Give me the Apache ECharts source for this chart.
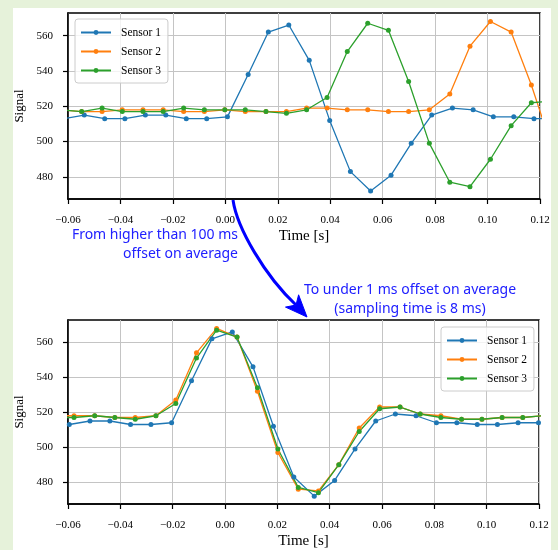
<!DOCTYPE html>
<html>
<head>
<meta charset="utf-8">
<script src="https://cdn.jsdelivr.net/npm/echarts@6/dist/echarts.min.js"></script>
<style>
html,body{margin:0;padding:0;background:#e6f2da;}
#chart{width:558px;height:550px;}
</style>
</head>
<body>
<div id="chart"></div>
<script>
// ---- data ----
const seriesNames = ['Sensor 1', 'Sensor 2', 'Sensor 3'];
const xTicks = [-0.06, -0.04, -0.02, 0.00, 0.02, 0.04, 0.06, 0.08, 0.10, 0.12];
const yTicks = [480, 500, 520, 540, 560];

// Top panel (before synchronisation)
const topTime1 = [-0.0617, -0.0538, -0.0460, -0.0383, -0.0305, -0.0227, -0.0149, -0.0071, 0.0008, 0.0087, 0.0164, 0.0242, 0.0320, 0.0398, 0.0477, 0.0554, 0.0632, 0.0709, 0.0787, 0.0866, 0.0945, 0.1022, 0.1100, 0.1177, 0.1255];
const topSensor1 = [513, 515, 513, 513, 515, 515, 513, 513, 514, 538, 562, 566, 546, 512, 483, 472, 481, 499, 515, 519, 518, 514, 514, 513, 513];
const topTime23 = [-0.0626, -0.0548, -0.0470, -0.0393, -0.0314, -0.0237, -0.0159, -0.0080, -0.0002, 0.0076, 0.0155, 0.0233, 0.0310, 0.0388, 0.0465, 0.0543, 0.0622, 0.0699, 0.0778, 0.0856, 0.0933, 0.1011, 0.1090, 0.1167, 0.1245];
const topSensor2 = [518, 517, 517, 518, 518, 518, 517, 517, 518, 517, 517, 517, 519, 519, 518, 518, 517, 517, 518, 527, 554, 568, 562, 532, 497];
const topSensor3 = [518, 517, 519, 517, 517, 517, 519, 518, 518, 518, 517, 516, 518, 525, 551, 567, 563, 534, 499, 477, 474.5, 490, 509, 522, 523];

// Bottom panel (after synchronisation)
const botTime1 = [-0.0595, -0.0516, -0.0440, -0.0361, -0.0283, -0.0204, -0.0128, -0.0050, 0.0028, 0.0107, 0.0185, 0.0263, 0.0341, 0.0419, 0.0497, 0.0576, 0.0651, 0.0730, 0.0808, 0.0886, 0.0964, 0.1041, 0.1120, 0.1198];
const botSensor1 = [513, 515, 515, 513, 513, 514, 538, 562, 566, 546, 512, 483, 472, 481, 499, 515, 519, 518, 514, 514, 513, 513, 514, 514];
const botTime23 = [-0.0656, -0.0577, -0.0498, -0.0421, -0.0343, -0.0264, -0.0188, -0.0109, -0.0032, 0.0046, 0.0124, 0.0202, 0.0280, 0.0357, 0.0435, 0.0513, 0.0591, 0.0669, 0.0746, 0.0825, 0.0904, 0.0982, 0.1059, 0.1138, 0.1215];
const botSensor2 = [518, 518, 518, 517, 517, 518, 527, 554, 568, 563, 532, 497, 476, 475, 490, 511, 523, 523, 519, 518, 516, 516, 517, 517, 518];
const botSensor3 = [517, 517, 518, 517, 516, 518, 525, 551, 567, 563, 534, 499, 477, 474, 490, 509, 522, 523, 519, 517, 516, 516, 517, 517, 518];

const annotationTop = ['From higher than 100 ms', 'offset on average'];
const annotationBottom = ['To under 1 ms offset on average', '(sampling time is 8 ms)'];

// ---- styling ----
const colors = ['#1f77b4', '#ff7f0e', '#2ca02c'];
const serif = 'Liberation Serif';
const zip = (t, v) => t.map((x, i) => [x, v[i]]);

function makeX(gridIndex) {
  return {
    type: 'value', gridIndex, min: -0.06, max: 0.12, interval: 0.02,
    name: 'Time [s]', nameLocation: 'middle', nameGap: 30,
    nameTextStyle: { fontFamily: serif, fontSize: 15, color: '#000' },
    axisLine: { show: true, onZero: false, lineStyle: { color: '#000', width: 1.5 } },
    axisTick: { show: true, length: 5, lineStyle: { color: '#000', width: 1.2 }, customValues: xTicks },
    axisLabel: { margin: 16, fontFamily: serif, fontSize: 11, color: '#000', customValues: xTicks,
      formatter: v => (v < 0 ? '\u2212' : '') + Math.abs(v).toFixed(2) },
    splitLine: { show: true, lineStyle: { color: '#c4c4c4', width: 1 } }
  };
}
function makeY(gridIndex) {
  return {
    type: 'value', gridIndex, min: 467.5, max: 572.8,
    name: 'Signal', nameLocation: 'middle', nameGap: 37, nameRotate: 90,
    nameTextStyle: { fontFamily: serif, fontSize: 13, color: '#000' },
    axisLine: { show: true, onZero: false, lineStyle: { color: '#000', width: 1.5 } },
    axisTick: { show: true, length: 5, lineStyle: { color: '#000', width: 1.2 }, customValues: yTicks },
    axisLabel: { margin: 15, fontFamily: serif, fontSize: 11, color: '#000', customValues: yTicks },
    splitLine: { show: true, lineStyle: { color: '#c4c4c4', width: 1 } }
  };
}
function line(name, data, idx, color) {
  return {
    name, type: 'line', xAxisIndex: idx, yAxisIndex: idx, data,
    symbol: 'circle', symbolSize: 5, showSymbol: true, clip: true,
    lineStyle: { color, width: 1.3 }, itemStyle: { color },
    animation: false, emphasis: { disabled: true }
  };
}
function legend(left, top) {
  return {
    orient: 'vertical', left, top, data: seriesNames,
    itemWidth: 30, itemHeight: 6, itemGap: 6,
    padding: [7, 7, 6, 5],
    backgroundColor: 'rgba(255,255,255,0.8)', borderColor: '#cccccc', borderWidth: 1, borderRadius: 3,
    textStyle: { fontFamily: serif, fontSize: 11.5, lineHeight: 13, color: '#000', padding: [0, 0, 0, 5] },
    selectedMode: false
  };
}

const chart = echarts.init(document.getElementById('chart'), null, { renderer: 'canvas' });
chart.setOption({
  backgroundColor: '#e6f2da',
  animation: false,
  grid: [
    { left: 68, top: 13, width: 472, height: 186, show: true, backgroundColor: '#fff', borderColor: '#000', borderWidth: 1.5 },
    { left: 68, top: 320, width: 471, height: 187, show: true, backgroundColor: '#fff', borderColor: '#000', borderWidth: 1.5 }
  ],
  xAxis: [makeX(0), makeX(1)],
  yAxis: [makeY(0), makeY(1)],
  legend: [legend(75, 19), legend(441, 327)],
  series: [
    line('Sensor 1', zip(topTime1, topSensor1), 0, colors[0]),
    line('Sensor 2', zip(topTime23, topSensor2), 0, colors[1]),
    line('Sensor 3', zip(topTime23, topSensor3), 0, colors[2]),
    line('Sensor 1', zip(botTime1, botSensor1), 1, colors[0]),
    line('Sensor 2', zip(botTime23, botSensor2), 1, colors[1]),
    line('Sensor 3', zip(botTime23, botSensor3), 1, colors[2])
  ],
  graphic: [
    { type: 'rect', z: -100, silent: true, shape: { x: 13, y: 8, width: 538, height: 542 }, style: { fill: '#ffffff' } },
    { type: 'text', z: 100, x: 238, y: 226, style: { text: annotationTop.join('\n'), align: 'right', verticalAlign: 'top',
      fontFamily: 'Noto Sans', fontSize: 14, lineHeight: 19, fill: '#2020ff' } },
    { type: 'text', z: 100, x: 410, y: 281, style: { text: annotationBottom.join('\n'), align: 'center', verticalAlign: 'top',
      fontFamily: 'Noto Sans', fontSize: 14, lineHeight: 19, fill: '#2020ff' } },
    { type: 'bezierCurve', z: 100, shape: { x1: 233, y1: 200, cpx1: 237, cpy1: 228, cpx2: 265, cpy2: 276, x2: 296, y2: 305 },
      style: { stroke: '#0000ff', lineWidth: 3, fill: null } },
    { type: 'polygon', z: 100, shape: { points: [[307, 317], [285.5, 307.1], [296, 305], [298.6, 294.8]] },
      style: { fill: '#0000ff', stroke: '#0000ff', lineWidth: 1 } }
  ]
});
</script>
</body>
</html>
